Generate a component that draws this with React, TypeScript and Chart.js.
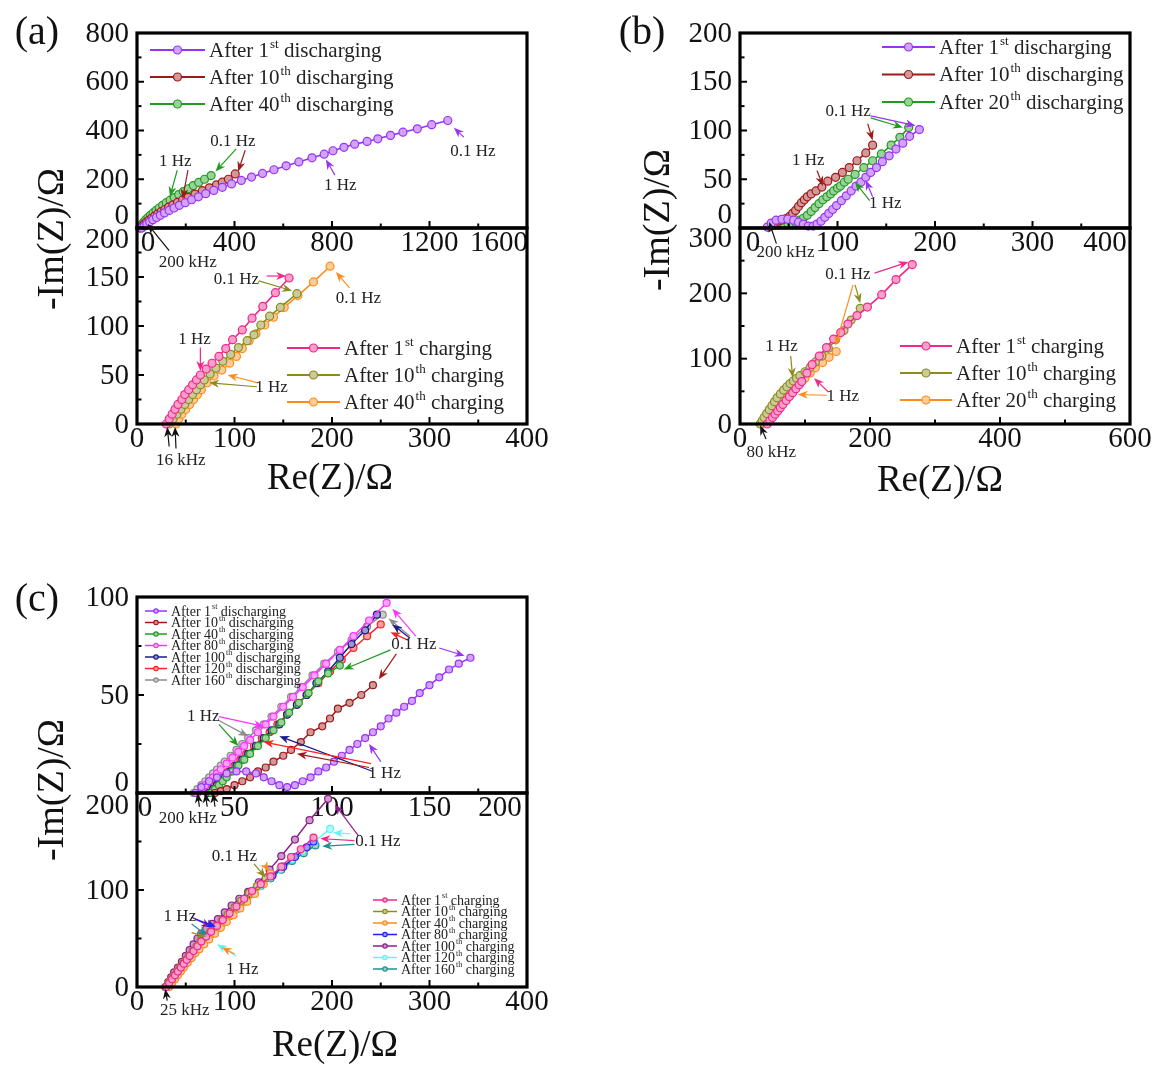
import React, { useEffect, useRef } from 'react';
import { Chart, registerables } from 'chart.js';

Chart.register(...registerables);

const FONT = '"Liberation Serif", "Times New Roman", Times, serif';

type P = [number, number];

// ---------- colours ----------
const PURPLE = '#9a32f5';
const BROWN = '#9e1a1a';
const GREEN = '#1f9c1f';
const PINK = '#f0288c';
const OLIVE = '#8c8c1e';
const ORANGE = '#ff8c1a';
const MAGENTA = '#ff33ff';
const NAVY = '#1a1a8c';
const RED = '#ff2222';
const GRAY = '#8c8c8c';
const BLUE = '#1f1fff';
const PLUM = '#8e1e8e';
const CYAN = '#5ff5f5';
const TEAL = '#1f8f8f';
const BLACK = '#111111';

// ---------- panel (a) : discharging ----------
const aDis1: P[] = [[20,0],[30,8],[40,16],[52,25],[65,34],[80,43],[96,52],[113,62],[132,72],[152,82],[174,93],[198,104],[224,116],[252,128],[282,141],[315,154],[350,167],[388,181],[428,195],[470,209],[515,224],[562,239],[612,255],[664,271],[718,288],[768,303],[804,317],[849,331],[893,344],[944,355],[988,366],[1040,380],[1091,393],[1150,407],[1209,424],[1275,441]];
const aDis10: P[] = [[15,0],[22,8],[30,16],[39,24],[49,32],[60,40],[72,49],[85,58],[99,67],[114,76],[130,86],[147,95],[166,105],[187,115],[210,126],[238,139],[268,153],[297,165],[326,177],[350,188],[375,200],[403,222]];
const aDis40: P[] = [[10,0],[15,8],[21,16],[28,25],[36,34],[45,43],[55,52],[66,62],[78,72],[91,82],[105,93],[120,104],[136,114],[153,125],[171,137],[190,149],[210,161],[231,174],[253,187],[277,200],[304,215]];
// ---------- panel (a) : charging ----------
const aCh1: P[] = [[30,0],[33,5],[36,10],[39,15],[42,20],[46,25],[49,30],[53,35],[57,40],[61,45],[65,50],[71,56],[77,62],[84,69],[91,77],[98,86],[108,96],[118,108],[129,120],[142,134],[156,149]];
const aCh10: P[] = [[33,0],[37,5],[41,10],[45,15],[49,20],[53,25],[57,30],[61,35],[65,40],[69,45],[75,51],[81,57],[88,64],[96,71],[104,78],[113,85],[120,91],[127,101],[136,110],[147,119],[164,133]];
const aCh40: P[] = [[40,0],[43,5],[46,10],[50,15],[54,20],[58,25],[62,30],[66,35],[72,42],[79,49],[87,55],[95,62],[102,69],[108,77],[115,85],[122,92],[131,101],[140,109],[151,119],[165,131],[181,145],[198,161]];

// ---------- panel (b) : discharging ----------
const bDis1: P[] = [[28,1],[32,5],[37,8],[43,9],[49,9],[55,8],[60,6],[65,4],[70,2],[75,2],[79,4],[83,7],[87,11],[91,15],[95,19],[99,23],[104,28],[109,33],[114,38],[119,43],[124,47],[129,52],[134,57],[140,62],[146,68],[153,74],[160,81],[167,87],[174,94],[184,101]];
const bDis10: P[] = [[30,1],[33,3],[36,5],[39,7],[42,8],[45,9],[48,10],[51,12],[54,15],[57,18],[60,22],[63,26],[66,29],[69,32],[73,35],[78,38],[84,42],[90,48],[98,52],[105,57],[112,62],[120,69],[129,77],[136,85]];
const bDis20: P[] = [[29,1],[33,3],[37,4],[41,5],[45,5],[49,5],[53,5],[57,6],[61,8],[65,10],[69,13],[73,17],[77,21],[81,25],[85,29],[89,32],[93,35],[96,38],[100,41],[103,43],[107,47],[111,50],[118,55],[127,62],[136,69],[145,76],[155,85],[164,93],[173,103]];
// ---------- panel (b) : charging ----------
const bCh1: P[] = [[42,0],[46,5],[50,10],[54,15],[58,20],[62,25],[66,30],[71,36],[76,42],[81,48],[86,54],[91,60],[95,65],[103,78],[111,91],[122,104],[133,117],[144,130],[155,140],[166,153],[180,166],[196,179],[218,198],[240,221],[265,244]];
const bCh10: P[] = [[31,0],[34,5],[37,10],[41,16],[45,22],[49,28],[53,34],[57,40],[62,46],[67,52],[72,57],[77,62],[82,66],[87,70],[92,74],[100,80],[108,87],[116,95],[126,104],[136,116],[147,129],[160,143],[171,159],[185,177]];
const bCh20: P[] = [[34,0],[38,5],[42,10],[46,15],[50,20],[55,26],[59,31],[64,36],[68,40],[72,44],[76,48],[80,52],[84,55],[88,59],[92,62],[100,70],[108,78],[116,86],[127,94],[137,102],[148,111]];

// ---------- panel (c) : discharging ----------
const cDis1: P[] = [[30,0],[33,3],[37,6],[41,8],[46,10],[51,11],[56,11],[61,10],[65,8],[69,6],[73,4],[77,3],[81,4],[85,6],[89,8],[93,11],[97,13],[101,16],[105,19],[109,22],[113,25],[117,28],[121,31],[125,34],[129,38],[133,41],[137,44],[141,47],[145,51],[150,55],[155,59],[160,63],[165,66],[171,69]];
const cDis10: P[] = [[40,0],[43,1],[46,2],[50,4],[54,6],[58,8],[62,11],[66,13],[70,16],[75,19],[79,22],[84,26],[89,31],[95,34],[99,38],[103,43],[109,46],[115,50],[121,55]];
const cDis40: P[] = [[38,0],[40,2],[42,4],[44,6],[46,8],[49,11],[52,14],[55,17],[58,20],[62,24],[66,28],[70,32],[74,36],[78,41],[83,46],[88,51],[93,57],[98,61],[104,65]];
const cDis80: P[] = [[31,0],[33,2],[35,4],[37,6],[39,8],[41,10],[43,12],[46,15],[49,18],[52,21],[55,24],[58,27],[62,31],[66,35],[70,39],[75,44],[80,49],[85,54],[91,60],[97,66],[104,73],[111,80],[119,88],[128,97]];
const cDis100: P[] = [[37,0],[39,2],[41,4],[43,6],[45,8],[48,11],[51,14],[54,17],[57,20],[61,24],[65,28],[69,32],[73,35],[77,40],[82,45],[87,50],[92,56],[98,62],[104,69],[110,76],[117,83],[123,91]];
const cDis120: P[] = [[36,0],[38,2],[40,4],[42,6],[44,8],[47,11],[50,14],[53,17],[56,20],[60,24],[64,28],[68,31],[72,35],[77,40],[82,45],[87,50],[93,56],[99,62],[105,68],[111,74],[118,80],[125,86]];
const cDis160: P[] = [[29,0],[31,2],[33,4],[35,6],[37,8],[39,10],[41,12],[43,14],[45,16],[48,19],[51,22],[54,25],[57,28],[61,32],[65,35],[69,39],[74,44],[79,49],[84,54],[90,60],[96,66],[103,72],[110,78],[118,85],[126,91]];
// ---------- panel (c) : charging ----------
const cCh1: P[] = [[30,0],[33,4],[36,8],[39,12],[42,16],[45,20],[48,24],[51,28],[54,32],[58,37],[62,42],[66,47],[71,52],[76,57],[82,63],[88,69],[95,76],[102,83],[110,91],[118,99],[127,106],[137,114],[148,124],[158,134],[168,142],[181,154]];
const cCh10: P[] = [[29,0],[32,4],[35,8],[38,12],[41,16],[44,20],[47,24],[50,28],[53,32],[57,37],[61,42],[65,47],[70,52],[75,57],[81,63],[87,69],[93,75],[100,82],[107,89],[115,97],[123,104],[132,112]];
const cCh40: P[] = [[33,0],[36,4],[39,8],[42,12],[45,16],[48,20],[52,25],[56,30],[60,35],[64,39],[69,44],[74,49],[80,55],[86,61],[92,67],[99,74],[106,81],[113,88],[121,96],[130,106],[137,117]];
const cCh80: P[] = [[31,0],[34,4],[37,8],[40,12],[43,16],[46,20],[49,24],[52,28],[56,33],[60,38],[64,43],[68,47],[73,52],[78,57],[84,63],[90,69],[97,76],[104,83],[112,91],[120,99],[129,107],[139,115],[150,124],[162,134],[174,144],[181,150]];
const cCh100: P[] = [[29,0],[32,5],[35,10],[38,15],[42,20],[46,26],[50,32],[54,38],[58,44],[62,50],[66,55],[71,60],[77,65],[83,70],[90,77],[97,84],[105,91],[114,98],[125,108],[136,121],[148,135],[162,152],[177,172],[196,194]];
const cCh120: P[] = [[31,0],[34,4],[37,8],[40,12],[43,16],[46,20],[49,24],[53,29],[57,34],[61,39],[65,44],[70,49],[75,54],[81,60],[87,66],[94,73],[101,80],[109,88],[117,96],[126,104],[136,113],[147,122],[159,132],[170,141],[182,150],[198,163]];
const cCh160: P[] = [[32,0],[35,4],[38,8],[41,12],[44,16],[47,20],[50,24],[54,29],[58,34],[62,39],[66,44],[71,49],[76,54],[82,60],[88,66],[95,73],[102,80],[110,88],[118,96],[127,104],[137,112],[148,121],[159,130],[171,138],[183,146]];

// ---------- ticks ----------
const aTopX = [0, 400, 800, 1200, 1600];
const aTopXMinor = [200, 600, 1000, 1400];
const aTopY = [0, 200, 400, 600, 800];
const aTopYMinor = [100, 300, 500, 700];
const aBotX = [0, 100, 200, 300, 400];
const aBotXMinor = [50, 150, 250, 350];
const aBotY = [0, 50, 100, 150, 200];
const aBotYMinor = [25, 75, 125, 175];
const bTopX = [0, 100, 200, 300, 400];
const bTopXMinor = [50, 150, 250, 350];
const bTopY = [0, 50, 100, 150, 200];
const bTopYMinor = [25, 75, 125, 175];
const bBotX = [0, 200, 400, 600];
const bBotXMinor = [100, 300, 500];
const bBotY = [0, 100, 200, 300];
const bBotYMinor = [50, 150, 250];
const cTopX = [0, 50, 100, 150, 200];
const cTopXMinor = [25, 75, 125, 175];
const cTopY = [0, 50, 100];
const cTopYMinor = [25, 75];
const cBotX = [0, 100, 200, 300, 400];
const cBotXMinor = [50, 150, 250, 350];
const cBotY = [0, 100, 200];
const cBotYMinor = [50, 150];

// ---------- types ----------
interface Series { n: string; sup: string; rest: string; color: string; data: P[]; }
interface Note { x: number; y: number; t: string; }
interface Arrow { x1: number; y1: number; x2: number; y2: number; c: string; }
interface Legend { dx: number; dy: number; step: number; len: number; size: number; r: number; lw: number; }
interface Spec {
  id: string;
  box: [number, number, number, number];
  x: [number, number]; y: [number, number];
  xMajor: number[]; xMinor: number[]; yMajor: number[]; yMinor: number[];
  xShift: Record<number, number>; yShift: Record<number, number>;
  series: Series[]; legend: Legend; notes: Note[]; arrows: Arrow[];
  r: number; lw: number; noteSize: number;
}

const PAD = { l: 120, r: 40, t: 30, b: 70 };

const S = (n: string, sup: string, rest: string, color: string, data: P[]): Series => ({ n, sup, rest, color, data });
const N = (x: number, y: number, t: string): Note => ({ x, y, t });
const A = (x1: number, y1: number, x2: number, y2: number, c: string): Arrow => ({ x1, y1, x2, y2, c });

const SPECS: Spec[] = [
  {
    id: 'aTop', box: [137, 33, 390, 195], x: [0, 1600], y: [0, 800],
    xMajor: aTopX, xMinor: aTopXMinor, yMajor: aTopY, yMinor: aTopYMinor,
    xShift: { 0: 11, 1600: -28 }, yShift: { 0: -13 },
    series: [S('1', 'st', 'discharging', PURPLE, aDis1), S('10', 'th', 'discharging', BROWN, aDis10), S('40', 'th', 'discharging', GREEN, aDis40)],
    legend: { dx: 13, dy: 17, step: 27, len: 55, size: 21, r: 4, lw: 2 },
    notes: [N(1378, 312, '0.1 Hz'), N(834, 176, '1 Hz'), N(393, 353, '0.1 Hz'), N(157, 271, '1 Hz')],
    arrows: [A(1341, 373, 1300, 411, PURPLE), A(812, 217, 775, 281, PURPLE), A(444, 319, 415, 232, BROWN), A(407, 325, 322, 232, GREEN), A(165, 237, 135, 129, GREEN), A(209, 237, 187, 120, BROWN)],
    r: 4, lw: 1.6, noteSize: 17,
  },
  {
    id: 'aBot', box: [137, 228, 390, 196], x: [0, 400], y: [0, 200],
    xMajor: aBotX, xMinor: aBotXMinor, yMajor: aBotY, yMinor: aBotYMinor,
    xShift: {}, yShift: { 200: 11 },
    series: [S('1', 'st', 'charging', PINK, aCh1), S('10', 'th', 'charging', OLIVE, aCh10), S('40', 'th', 'charging', ORANGE, aCh40)],
    legend: { dx: 150, dy: 120, step: 27, len: 53, size: 21, r: 4, lw: 2 },
    notes: [N(102, 147, '0.1 Hz'), N(227, 128, '0.1 Hz'), N(59, 86, '1 Hz'), N(138, 37, '1 Hz'), N(45, -37, '16 kHz'), N(52, 165, '200 kHz')],
    arrows: [A(133, 151, 153, 151, PINK), A(125, 146, 159, 136, OLIVE), A(218, 139, 204, 155, ORANGE), A(65, 78, 65, 54, PINK), A(124, 42, 93, 50, ORANGE), A(123, 38, 74, 42, OLIVE), A(33, -23, 31, -3, BLACK), A(40, -25, 39, -3, BLACK), A(33, 177, 11, 204, BLACK)],
    r: 4, lw: 1.6, noteSize: 17,
  },
  {
    id: 'bTop', box: [740, 33, 390, 195], x: [0, 400], y: [0, 200],
    xMajor: bTopX, xMinor: bTopXMinor, yMajor: bTopY, yMinor: bTopYMinor,
    xShift: { 0: 13, 400: -25 }, yShift: { 0: -14 },
    series: [S('1', 'st', 'discharging', PURPLE, bDis1), S('10', 'th', 'discharging', BROWN, bDis10), S('20', 'th', 'discharging', GREEN, bDis20)],
    legend: { dx: 142, dy: 14, step: 27.5, len: 53, size: 21, r: 4, lw: 2 },
    notes: [N(111, 119, '0.1 Hz'), N(70, 69, '1 Hz'), N(149, 25, '1 Hz')],
    arrows: [A(134, 115, 180, 105, PURPLE), A(134, 113, 167, 103, GREEN), A(131, 107, 136, 90, BROWN), A(79, 59, 85, 43, BROWN), A(136, 32, 129, 49, PURPLE), A(133, 28, 118, 47, GREEN)],
    r: 4, lw: 1.6, noteSize: 17,
  },
  {
    id: 'bBot', box: [740, 228, 390, 196], x: [0, 600], y: [0, 300],
    xMajor: bBotX, xMinor: bBotXMinor, yMajor: bBotY, yMinor: bBotYMinor,
    xShift: {}, yShift: { 300: 10 },
    series: [S('1', 'st', 'charging', PINK, bCh1), S('10', 'th', 'charging', OLIVE, bCh10), S('20', 'th', 'charging', ORANGE, bCh20)],
    legend: { dx: 160, dy: 118, step: 27, len: 52, size: 21, r: 4, lw: 2 },
    notes: [N(166, 229, '0.1 Hz'), N(64, 118, '1 Hz'), N(158, 42, '1 Hz'), N(48, -44, '80 kHz'), N(70, 263, '200 kHz')],
    arrows: [A(207, 231, 259, 248, PINK), A(177, 213, 185, 185, OLIVE), A(174, 213, 147, 120, ORANGE), A(78, 104, 81, 71, OLIVE), A(136, 49, 114, 70, PINK), A(133, 44, 89, 45, ORANGE), A(40, -23, 31, -2, BLACK), A(56, 276, 45, 309, BLACK)],
    r: 4, lw: 1.6, noteSize: 17,
  },
  {
    id: 'cTop', box: [137, 597, 390, 196], x: [0, 200], y: [0, 100],
    xMajor: cTopX, xMinor: cTopXMinor, yMajor: cTopY, yMinor: cTopYMinor,
    xShift: { 0: 8, 200: -27 }, yShift: { 0: -11 },
    series: [S('1', 'st', 'discharging', PURPLE, cDis1), S('10', 'th', 'discharging', BROWN, cDis10), S('40', 'th', 'discharging', GREEN, cDis40), S('80', 'th', 'discharging', MAGENTA, cDis80), S('100', 'th', 'discharging', NAVY, cDis100), S('120', 'th', 'discharging', RED, cDis120), S('160', 'th', 'discharging', GRAY, cDis160)],
    legend: { dx: 8, dy: 14, step: 11.5, len: 22, size: 14, r: 2.2, lw: 1.5 },
    notes: [N(142, 76, '0.1 Hz'), N(34, 39, '1 Hz'), N(127, 10, '1 Hz'), N(26, -13, '200 kHz')],
    arrows: [
      A(155, 74, 168, 70, PURPLE), A(143, 80, 131, 94, MAGENTA), A(140, 80, 129, 89, GRAY), A(140, 79, 131, 86, NAVY), A(139, 78, 130, 82, RED),
      A(130, 73, 106, 63, GREEN), A(133, 71, 124, 58, BROWN),
      A(42, 39, 65, 34, MAGENTA), A(42, 37, 57, 29, GRAY), A(42, 35, 52, 24, GREEN),
      A(121, 11, 73, 29, NAVY), A(120, 15, 65, 26, RED), A(119, 13, 82, 20, BROWN), A(125, 16, 119, 25, PURPLE),
      A(32, -7, 31, 0, BLACK), A(36, -7, 35, 0, BLACK), A(40, -7, 39, 0, BLACK),
    ],
    r: 3.5, lw: 1.5, noteSize: 17,
  },
  {
    id: 'cBot', box: [137, 793, 390, 194], x: [0, 400], y: [0, 200],
    xMajor: cBotX, xMinor: cBotXMinor, yMajor: cBotY, yMinor: cBotYMinor,
    xShift: {}, yShift: { 200: 12 },
    series: [S('1', 'st', 'charging', PINK, cCh1), S('10', 'th', 'charging', OLIVE, cCh10), S('40', 'th', 'charging', ORANGE, cCh40), S('80', 'th', 'charging', BLUE, cCh80), S('100', 'th', 'charging', PLUM, cCh100), S('120', 'th', 'charging', CYAN, cCh120), S('160', 'th', 'charging', TEAL, cCh160)],
    legend: { dx: 236, dy: 107, step: 11.5, len: 24, size: 14, r: 2.2, lw: 1.5 },
    notes: [N(247, 150, '0.1 Hz'), N(100, 135, '0.1 Hz'), N(44, 73, '1 Hz'), N(108, 18, '1 Hz'), N(49, -24, '25 kHz')],
    arrows: [
      A(227, 156, 203, 188, PLUM), A(223, 151, 188, 153, PINK), A(219, 158, 201, 159, CYAN), A(223, 147, 190, 145, TEAL),
      A(120, 127, 132, 113, OLIVE), A(131, 126, 135, 119, ORANGE),
      A(56, 72, 76, 62, PLUM), A(60, 70, 81, 62, BLUE), A(56, 56, 71, 52, OLIVE), A(56, 65, 72, 53, TEAL),
      A(102, 32, 82, 44, CYAN), A(100, 34, 87, 41, ORANGE), A(31, -14, 29, -2, BLACK),
    ],
    r: 3.5, lw: 1.5, noteSize: 17,
  },
];

// ---------- helpers ----------
function light(hex: string, k = 0.55): string {
  const v = parseInt(hex.slice(1), 16);
  const r = (v >> 16) & 255, g = (v >> 8) & 255, b = v & 255;
  const m = (c: number) => Math.round(c + (255 - c) * k);
  return `rgb(${m(r)},${m(g)},${m(b)})`;
}

function drawArrow(ctx: CanvasRenderingContext2D, x1: number, y1: number, x2: number, y2: number, c: string) {
  const ang = Math.atan2(y2 - y1, x2 - x1);
  const L = 10, W = 4;
  const cos = Math.cos(ang), sin = Math.sin(ang);
  ctx.strokeStyle = c; ctx.fillStyle = c; ctx.lineWidth = 1.2;
  ctx.beginPath();
  ctx.moveTo(x1, y1);
  ctx.lineTo(x2 - cos * L * 0.7, y2 - sin * L * 0.7);
  ctx.stroke();
  ctx.beginPath();
  ctx.moveTo(x2, y2);
  ctx.lineTo(x2 - cos * L - sin * W, y2 - sin * L + cos * W);
  ctx.lineTo(x2 - cos * L * 0.7, y2 - sin * L * 0.7);
  ctx.lineTo(x2 - cos * L + sin * W, y2 - sin * L - cos * W);
  ctx.closePath();
  ctx.fill();
}

function drawDeco(chart: any, spec: Spec) {
  const ctx: CanvasRenderingContext2D = chart.ctx;
  const { left, right, top, bottom } = chart.chartArea;
  const xs = chart.scales.x, ys = chart.scales.y;
  ctx.save();
  ctx.strokeStyle = '#000';
  ctx.lineWidth = 2;
  const tick = (px1: number, py1: number, px2: number, py2: number) => { ctx.beginPath(); ctx.moveTo(px1, py1); ctx.lineTo(px2, py2); ctx.stroke(); };
  spec.yMajor.forEach(v => { const p = ys.getPixelForValue(v); tick(left, p, left + 7, p); });
  spec.yMinor.forEach(v => { const p = ys.getPixelForValue(v); tick(left, p, left + 4.5, p); });
  spec.xMajor.forEach(v => { const p = xs.getPixelForValue(v); tick(p, bottom, p, bottom - 7); });
  spec.xMinor.forEach(v => { const p = xs.getPixelForValue(v); tick(p, bottom, p, bottom - 4.5); });
  ctx.lineWidth = 3.2;
  ctx.strokeRect(left, top, right - left, bottom - top);
  ctx.fillStyle = '#111';
  ctx.font = `29px ${FONT}`;
  ctx.textAlign = 'right';
  ctx.textBaseline = 'middle';
  spec.yMajor.forEach(v => {
    ctx.fillText(String(v), left - 8, ys.getPixelForValue(v) + 1 + (spec.yShift[v] || 0));
  });
  ctx.textAlign = 'center';
  spec.xMajor.forEach(v => {
    ctx.fillText(String(v), xs.getPixelForValue(v) + (spec.xShift[v] || 0), bottom + 15);
  });
  spec.arrows.forEach(a => drawArrow(ctx, xs.getPixelForValue(a.x1), ys.getPixelForValue(a.y1), xs.getPixelForValue(a.x2), ys.getPixelForValue(a.y2), a.c));
  ctx.fillStyle = '#222';
  ctx.font = `${spec.noteSize}px ${FONT}`;
  ctx.textAlign = 'center';
  ctx.textBaseline = 'middle';
  spec.notes.forEach(n => ctx.fillText(n.t, xs.getPixelForValue(n.x), ys.getPixelForValue(n.y)));
  const lg = spec.legend;
  const x0 = left + lg.dx;
  spec.series.forEach((s, i) => {
    const y = top + lg.dy + i * lg.step;
    ctx.strokeStyle = s.color;
    ctx.lineWidth = lg.lw;
    ctx.beginPath(); ctx.moveTo(x0, y); ctx.lineTo(x0 + lg.len, y); ctx.stroke();
    ctx.beginPath(); ctx.arc(x0 + lg.len / 2, y, lg.r, 0, Math.PI * 2);
    ctx.fillStyle = light(s.color); ctx.fill();
    ctx.lineWidth = 1.2; ctx.stroke();
    ctx.fillStyle = '#222';
    ctx.textAlign = 'left';
    ctx.textBaseline = 'middle';
    let tx = x0 + lg.len + 4;
    ctx.font = `${lg.size}px ${FONT}`;
    const a = 'After ' + s.n;
    ctx.fillText(a, tx, y + 1);
    tx += ctx.measureText(a).width + 1;
    ctx.font = `${Math.round(lg.size * 0.6)}px ${FONT}`;
    ctx.fillText(s.sup, tx, y - lg.size * 0.28);
    tx += ctx.measureText(s.sup).width;
    ctx.font = `${lg.size}px ${FONT}`;
    ctx.fillText(' ' + s.rest, tx, y + 1);
  });
  ctx.restore();
}

function PanelCanvas({ spec }: { spec: Spec }) {
  const ref = useRef<HTMLCanvasElement>(null);
  const [bx, by, bw, bh] = spec.box;
  const w = bw + PAD.l + PAD.r;
  const h = bh + PAD.t + PAD.b;
  useEffect(() => {
    if (!ref.current) return;
    const chart = new Chart(ref.current, {
      type: 'scatter',
      data: {
        datasets: spec.series.map(s => ({
          label: `After ${s.n}${s.sup} ${s.rest}`,
          data: s.data.map(([x, y]) => ({ x, y })),
          showLine: true,
          borderColor: s.color,
          backgroundColor: s.color,
          borderWidth: spec.lw,
          pointBackgroundColor: light(s.color),
          pointBorderColor: s.color,
          pointBorderWidth: 1.2,
          pointRadius: spec.r,
          pointHoverRadius: spec.r,
          clip: 6,
        })),
      },
      options: {
        responsive: false,
        animation: false,
        devicePixelRatio: 1,
        events: [],
        layout: { padding: { left: PAD.l, right: PAD.r, top: PAD.t, bottom: PAD.b } },
        plugins: { legend: { display: false }, tooltip: { enabled: false }, title: { display: false } },
        scales: {
          x: { type: 'linear', min: spec.x[0], max: spec.x[1], display: false },
          y: { type: 'linear', min: spec.y[0], max: spec.y[1], display: false },
        },
      },
      plugins: [{ id: 'deco_' + spec.id, afterDraw: (c: any) => drawDeco(c, spec) }],
    } as any);
    return () => chart.destroy();
  }, [spec]);
  return (
    <canvas
      ref={ref}
      width={w}
      height={h}
      style={{ position: 'absolute', left: bx - PAD.l, top: by - PAD.t, width: w, height: h }}
    />
  );
}

const txt = (s: React.CSSProperties): React.CSSProperties => ({
  position: 'absolute', whiteSpace: 'nowrap', lineHeight: 1, color: '#111', fontFamily: FONT, ...s,
});

const LABELS: { t: string; x: number; y: number; size: number; rot?: boolean }[] = [
  { t: '(a)', x: 37, y: 31, size: 40 },
  { t: '(b)', x: 642, y: 31, size: 40 },
  { t: '(c)', x: 37, y: 598, size: 40 },
  { t: '-Im(Z)/Ω', x: 50, y: 239, size: 38, rot: true },
  { t: '-Im(Z)/Ω', x: 656, y: 220, size: 38, rot: true },
  { t: '-Im(Z)/Ω', x: 50, y: 790, size: 38, rot: true },
  { t: 'Re(Z)/Ω', x: 330, y: 476, size: 37 },
  { t: 'Re(Z)/Ω', x: 940, y: 478, size: 37 },
  { t: 'Re(Z)/Ω', x: 335, y: 1043, size: 37 },
];

export default function App() {
  return (
    <div style={{ position: 'absolute', left: 0, top: 0, width: 1162, height: 1066, background: '#fff', overflow: 'hidden' }}>
      {SPECS.map(s => <PanelCanvas key={s.id} spec={s} />)}
      {LABELS.map((l, i) => (
        <div
          key={i}
          style={txt({
            left: l.x, top: l.y, fontSize: l.size,
            transform: `translate(-50%, -50%)${l.rot ? ' rotate(-90deg)' : ''}`,
          })}
        >
          {l.t}
        </div>
      ))}
    </div>
  );
}
